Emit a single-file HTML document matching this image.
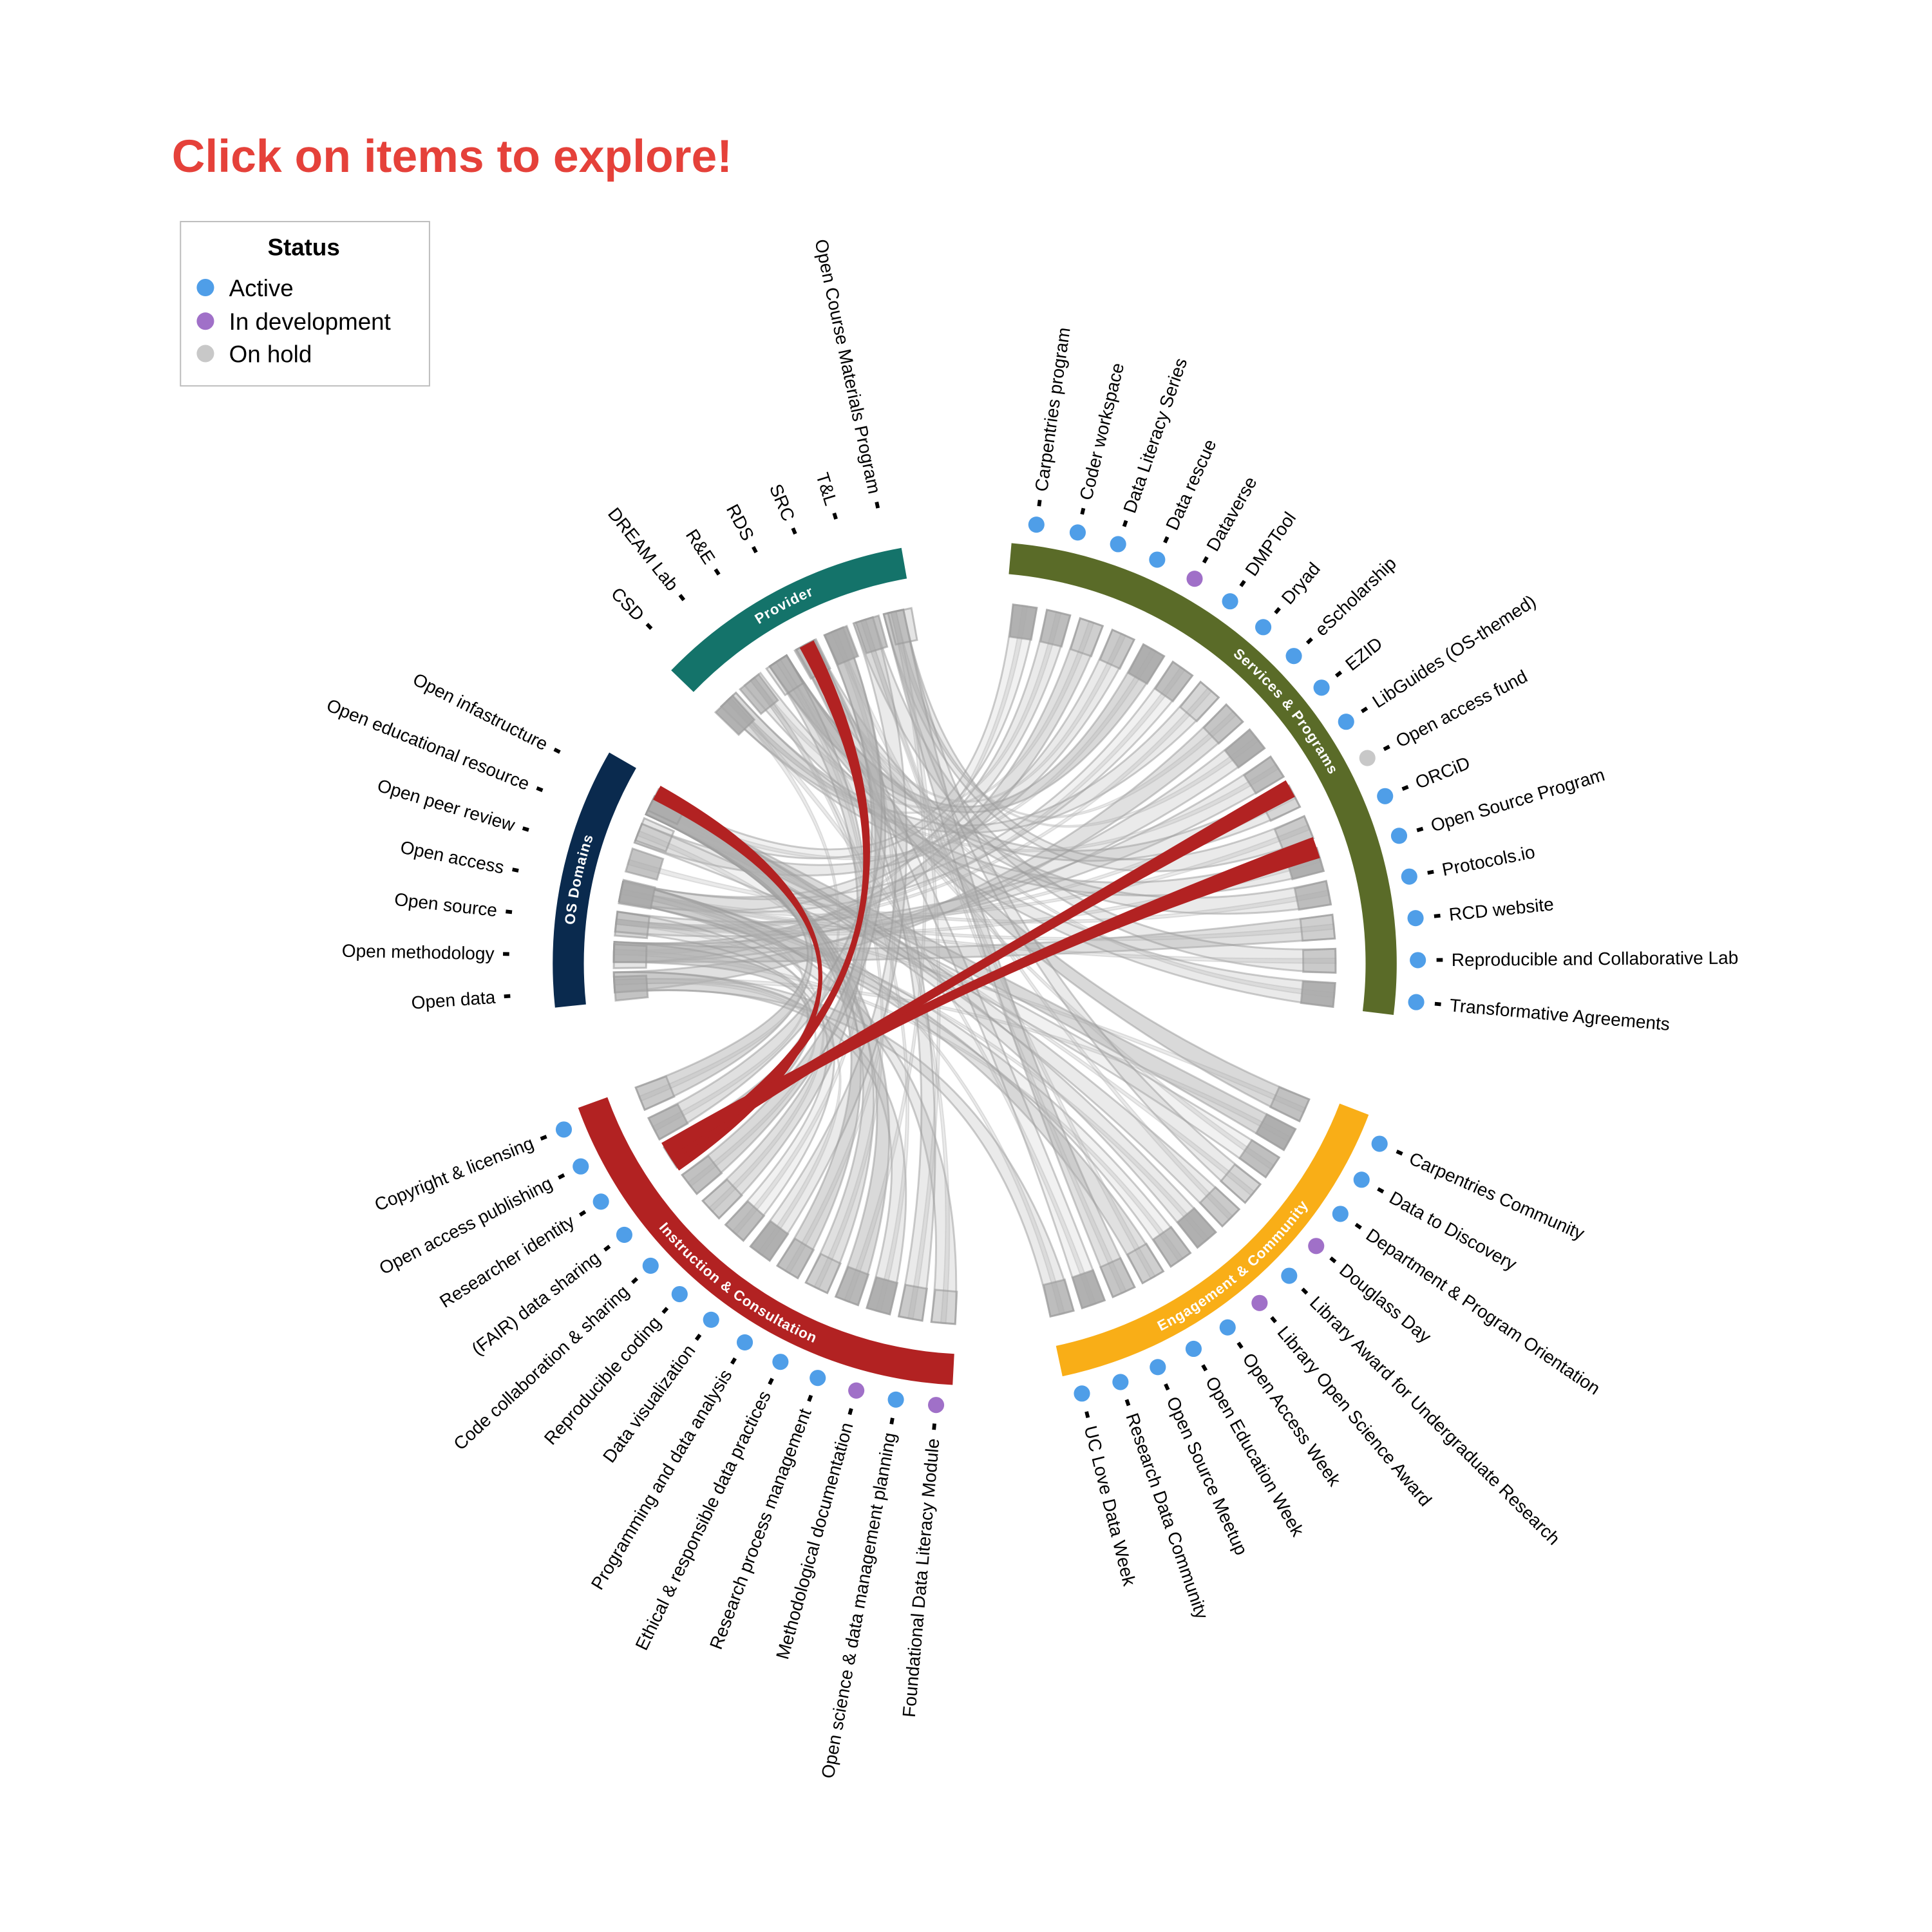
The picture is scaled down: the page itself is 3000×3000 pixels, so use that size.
<!DOCTYPE html>
<html><head><meta charset="utf-8">
<style>
html,body{margin:0;padding:0;background:#fff;}
svg{display:block;}
text{font-family:"Liberation Sans",Arial,sans-serif;}
</style></head>
<body>
<svg id="s" width="3000" height="3000" viewBox="0 0 1552 1552" xmlns="http://www.w3.org/2000/svg">
<rect width="1552" height="1552" fill="#fff"/>
<text x="138" y="138" font-size="37" font-weight="bold" fill="#e5413a">Click on items to explore!</text>
<rect x="145" y="178" width="200" height="132" fill="#fff" stroke="#bbb" stroke-width="1"/>
<text x="244" y="205" font-size="19" font-weight="bold" text-anchor="middle">Status</text>
<circle cx="165" cy="231" r="7" fill="#4f9ee8"/><text x="184" y="238" font-size="19">Active</text>
<circle cx="165" cy="258" r="7" fill="#a070c8"/><text x="184" y="265" font-size="19">In development</text>
<circle cx="165" cy="284" r="7" fill="#c8c8c8"/><text x="184" y="291" font-size="19">On hold</text>
<g id="chords"></g>
<g id="arcs"></g>
<g id="labels"></g>
</svg>
<script>
var NS="http://www.w3.org/2000/svg";
var cx=783,cy=774;
function pt(r,a){a=a*Math.PI/180;return [cx+r*Math.sin(a),cy-r*Math.cos(a)];}
function el(tag,attrs,parent,txt){var e=document.createElementNS(NS,tag);for(var k in attrs)e.setAttribute(k,attrs[k]);if(txt!==undefined)e.textContent=txt;document.getElementById(parent).appendChild(e);return e;}
function arcBand(r1,r2,a1,a2){var p1=pt(r2,a1),p2=pt(r2,a2),p3=pt(r1,a2),p4=pt(r1,a1);var lg=(a2-a1)>180?1:0;
return "M"+p1+" A"+r2+" "+r2+" 0 "+lg+" 1 "+p2+" L"+p3+" A"+r1+" "+r1+" 0 "+lg+" 0 "+p4+" Z";}
function ribbon(a1,a2,b1,b2,r){var A=pt(r,a1),B=pt(r,a2),C=pt(r,b1),D=pt(r,b2),c=cx+","+cy;
return "M"+A+" A"+r+" "+r+" 0 0 1 "+B+" Q"+c+" "+C+" A"+r+" "+r+" 0 0 1 "+D+" Q"+c+" "+A+" Z";}

var groups=[
 {name:"Services & Programs",a1:5,a2:97,col:"#5a6b28",dots:true,s:8,e:95,items:[
 ["Carpentries program",0],["Coder workspace",0],["Data Literacy Series",0],["Data rescue",0],["Dataverse",1],["DMPTool",0],["Dryad",0],["eScholarship",0],["EZID",0],["LibGuides (OS-themed)",0],["Open access fund",2],["ORCiD",0],["Open Source Program",0],["Protocols.io",0],["RCD website",0],["Reproducible and Collaborative Lab",0],["Transformative Agreements",0]]},
 {name:"Engagement & Community",a1:111,a2:168,col:"#f9ae17",dots:true,s:114,e:166,items:[
 ["Carpentries Community",0],["Data to Discovery",0],["Department & Program Orientation",0],["Douglass Day",1],["Library Award for Undergraduate Research",0],["Library Open Science Award",1],["Open Access Week",0],["Open Education Week",0],["Open Source Meetup",0],["Research Data Community",0],["UC Love Data Week",0]]},
 {name:"Instruction & Consultation",a1:183,a2:250,col:"#b22222",dots:true,s:185,e:248,items:[
 ["Foundational Data Literacy Module",1],["Open science & data management planning",0],["Methodological documentation",1],["Research process management",0],["Ethical & responsible data practices",0],["Programming and data analysis",0],["Data visualization",0],["Reproducible coding",0],["Code collaboration & sharing",0],["(FAIR) data sharing",0],["Researcher identity",0],["Open access publishing",0],["Copyright & licensing",0]]},
 {name:"OS Domains",a1:264,a2:300,col:"#0a2a4e",dots:false,s:266,e:297,items:[
 ["Open data"],["Open methodology"],["Open source"],["Open access"],["Open peer review"],["Open educational resource"],["Open infastructure"]]},
 {name:"Provider",a1:314,a2:350,col:"#14736a",dots:false,s:316,e:348,items:[
 ["CSD"],["DREAM Lab"],["R&E"],["RDS"],["SRC"],["T&L"],["Open Course Materials Program"]]}
];
var dcol=["#4f9ee8","#a070c8","#c8c8c8"];

groups.forEach(function(g,gi){
 el("path",{d:arcBand(314,339,g.a1,g.a2),fill:g.col},"arcs");
 var mid=(g.a1+g.a2)/2, r=323;
 var bottom = mid>100 && mid<260;
 var id="gp"+gi, d;
 if(!bottom){var p1=pt(r,g.a1),p2=pt(r,g.a2);d="M"+p1+" A"+r+" "+r+" 0 0 1 "+p2;}
 else{r=331;var p1=pt(r,g.a2),p2=pt(r,g.a1);d="M"+p1+" A"+r+" "+r+" 0 0 0 "+p2;}
 el("path",{id:id,d:d,fill:"none"},"arcs");
 var t=el("text",{"font-size":"11.5","font-weight":"bold",fill:"#fff","letter-spacing":"0.5"},"arcs");
 var tp=document.createElementNS(NS,"textPath");tp.setAttribute("href","#"+id);tp.setAttribute("startOffset","50%");tp.setAttribute("text-anchor","middle");tp.textContent=g.name;t.appendChild(tp);
 var n=g.items.length;
 g.items.forEach(function(it,i){
  var a=g.s+(g.e-g.s)*i/(n-1); it.ang=a;
  var rd=356, rt1=g.dots?371:374, rt2=rt1+5, rl=g.dots?383:386;
  if(g.dots){var p=pt(rd,a);el("circle",{cx:p[0],cy:p[1],r:6.5,fill:dcol[it[1]]},"labels");}
  var q1=pt(rt1,a),q2=pt(rt2,a);
  el("line",{x1:q1[0],y1:q1[1],x2:q2[0],y2:q2[1],stroke:"#000","stroke-width":3},"labels");
  var lp=pt(rl,a), rot, anchor;
  if(a<180){rot=a-90;anchor="start";}else{rot=a+90;anchor="end";}
  el("text",{x:lp[0],y:lp[1],"font-size":"14.5","text-anchor":anchor,"dominant-baseline":"central",transform:"rotate("+rot+" "+lp[0]+" "+lp[1]+")"},"labels",it[0]);
 });
});

var R=290;
var targets=[];
[3,4].forEach(function(gi){var g=groups[gi];var n=g.items.length;for(var i=0;i<n;i++)targets.push(g.s+1+(g.e-g.s-2)*i/(n-1));});
var cnt=7;
function rnd(){cnt=(cnt*9301+49297)%233280;return cnt/233280;}
var ops=[0.8,0.45,0.3,0.65];
[0,1,2].forEach(function(gi){var g=groups[gi];var n=g.items.length;
 g.items.forEach(function(it,i){
  var a=g.s+(g.e-g.s)*i/(n-1);
  var w=1.9;
  var k=Math.floor(rnd()*targets.length);
  var t=targets[k];
  var o=ops[Math.floor(rnd()*4)];
  el("path",{d:ribbon(a-w,a+w,t-1.6,t+1.6,R),fill:"#b0b0b0","fill-opacity":o*0.6,stroke:"#999","stroke-opacity":0.5,"stroke-width":1.5},"chords");
  var k2=Math.floor(rnd()*targets.length);var t2=targets[k2];
  el("path",{d:ribbon(a-0.4,a+0.4,t2-0.4,t2+0.4,R),fill:"#bbb","fill-opacity":0.3,stroke:"#aaa","stroke-opacity":0.3},"chords");
 });
});
// bars at ends (all groups)
groups.forEach(function(g,gi){var n=g.items.length;
 for(var i=0;i<n;i++){var a=g.s+(g.e-g.s)*i/(n-1), w=1.9;
  var o=[0.9,0.5,0.3,0.7][(i*3+gi)%4];
  el("path",{d:"M"+pt(R,a-w)+" L"+pt(R-26,a-w)+" L"+pt(R-26,a+w)+" L"+pt(R,a+w)+" Z",fill:"#aaa","fill-opacity":o,stroke:"#999","stroke-width":1.5,"stroke-opacity":0.6},"chords");}
});
var ir=236.5;
[[297,299.5],[331,333.5],[59.5,62.5],[69.5,73]].forEach(function(r,i){
 var b=ir-1.5+i*0.9;
 el("path",{d:ribbon(r[0],r[1],b,b+2.5,R),fill:"#b22222"},"chords");
});
</script>
</body></html>
